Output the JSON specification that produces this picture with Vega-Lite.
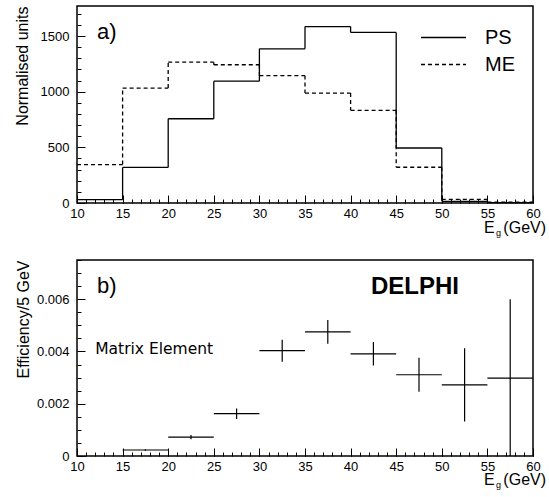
{
  "$schema": "https://vega.github.io/schema/vega-lite/v6.json",
  "padding": {"left": 13, "top": 5, "right": 2, "bottom": 5},
  "background": "white",
  "spacing": 18,
  "config": {
    "view": {"stroke": "black", "strokeWidth": 1.5},
    "font": "Liberation Sans",
    "axis": {
      "domain": false, "grid": false, "tickColor": "black", "zindex": 1,
      "labelColor": "black", "labelFont": "Liberation Sans", "labelFontSize": 13,
      "titleFont": "Liberation Sans", "titleFontWeight": "normal", "titleColor": "black", "titleFontSize": 16
    }
  },
  "datasets": {
    "hist": [
      {"series": "PS", "lo": 10, "hi": 15, "v": 30},
      {"series": "PS", "lo": 15, "hi": 20, "v": 320},
      {"series": "PS", "lo": 20, "hi": 25, "v": 757},
      {"series": "PS", "lo": 25, "hi": 30, "v": 1095},
      {"series": "PS", "lo": 30, "hi": 35, "v": 1385},
      {"series": "PS", "lo": 35, "hi": 40, "v": 1585},
      {"series": "PS", "lo": 40, "hi": 45, "v": 1533},
      {"series": "PS", "lo": 45, "hi": 50, "v": 494},
      {"series": "PS", "lo": 50, "hi": 55, "v": 15},
      {"series": "PS", "lo": 55, "hi": 60, "v": 3},
      {"series": "ME", "lo": 10, "hi": 15, "v": 345},
      {"series": "ME", "lo": 15, "hi": 20, "v": 1033},
      {"series": "ME", "lo": 20, "hi": 25, "v": 1265},
      {"series": "ME", "lo": 25, "hi": 30, "v": 1242},
      {"series": "ME", "lo": 30, "hi": 35, "v": 1145},
      {"series": "ME", "lo": 35, "hi": 40, "v": 988},
      {"series": "ME", "lo": 40, "hi": 45, "v": 833},
      {"series": "ME", "lo": 45, "hi": 50, "v": 321},
      {"series": "ME", "lo": 50, "hi": 55, "v": 33},
      {"series": "ME", "lo": 55, "hi": 60, "v": 8}
    ],
    "eff": [
      {"lo": 15, "hi": 20, "mid": 17.5, "eff": 0.00023, "elo": 0.0002, "ehi": 0.00026},
      {"lo": 20, "hi": 25, "mid": 22.5, "eff": 0.00072, "elo": 0.00064, "ehi": 0.0008},
      {"lo": 25, "hi": 30, "mid": 27.5, "eff": 0.00162, "elo": 0.00142, "ehi": 0.00182},
      {"lo": 30, "hi": 35, "mid": 32.5, "eff": 0.00403, "elo": 0.00361, "ehi": 0.00445},
      {"lo": 35, "hi": 40, "mid": 37.5, "eff": 0.00475, "elo": 0.0043, "ehi": 0.0052},
      {"lo": 40, "hi": 45, "mid": 42.5, "eff": 0.00391, "elo": 0.00346, "ehi": 0.00436},
      {"lo": 45, "hi": 50, "mid": 47.5, "eff": 0.00311, "elo": 0.00246, "ehi": 0.00376},
      {"lo": 50, "hi": 55, "mid": 52.5, "eff": 0.00272, "elo": 0.00132, "ehi": 0.00412},
      {"lo": 55, "hi": 60, "mid": 57.5, "eff": 0.00298, "elo": 0.0, "ehi": 0.006}
    ],
    "notesA": [{"t": "a)"}],
    "notesB": [{"t": "b)", "m": "Matrix Element", "d": "DELPHI"}],
    "xt": [{"e": "E", "g": "g", "u": "(GeV)"}]
  },
  "vconcat": [
    {
      "width": 456, "height": 197,
      "resolve": {"axis": {"x": "independent", "y": "independent"}},
      "layer": [
        {
          "data": {"name": "hist"},
          "mark": {"type": "rule", "color": "black", "strokeWidth": 1.3},
          "encoding": {
            "x": {"field": "lo", "type": "quantitative",
              "scale": {"domain": [10, 60], "nice": false, "zero": false},
              "axis": {"orient": "bottom", "title": null, "ticks": true, "tickSize": -8,
                "values": [10, 15, 20, 25, 30, 35, 40, 45, 50, 55, 60],
                "labelOverlap": false, "labelFlush": false, "labelPadding": 12}},
            "x2": {"field": "hi"},
            "y": {"field": "v", "type": "quantitative",
              "scale": {"domain": [0, 1770], "nice": false},
              "axis": {"orient": "left", "title": "Normalised units", "titleAnchor": "end", "titlePadding": 10,
                "ticks": true, "tickSize": -8, "values": [0, 500, 1000, 1500], "format": "d",
                "labelOverlap": false, "labelPadding": 16}},
            "strokeDash": {"field": "series", "type": "nominal",
              "scale": {"domain": ["PS", "ME"], "range": [[1, 0], [4, 3]]},
              "legend": {"orient": "top-right", "title": null, "offset": 18, "padding": 0,
                "symbolType": "M-1.8,0H1.8", "symbolSize": 625, "symbolStrokeWidth": 1.3,
                "symbolStrokeColor": "black", "symbolFillColor": "transparent",
                "labelFontSize": 20, "labelFont": "Liberation Sans", "labelColor": "black",
                "labelOffset": 28, "rowPadding": 3}}
          }
        },
        {
          "data": {"name": "hist"},
          "transform": [
            {"window": [{"op": "lag", "field": "v", "as": "prev"}], "groupby": ["series"], "sort": [{"field": "lo"}]},
            {"filter": "datum.prev != null"}
          ],
          "mark": {"type": "rule", "color": "black", "strokeWidth": 1.3},
          "encoding": {
            "x": {"field": "lo", "type": "quantitative",
              "axis": {"orient": "top", "offset": -197, "title": null, "labels": false, "domain": false,
                "ticks": true, "minExtent": 0, "tickSize": 4,
                "values": [10,11,12,13,14,15,16,17,18,19,20,21,22,23,24,25,26,27,28,29,30,31,32,33,34,35,36,37,38,39,40,41,42,43,44,45,46,47,48,49,50,51,52,53,54,55,56,57,58,59,60]}},
            "y": {"field": "prev", "type": "quantitative",
              "axis": {"orient": "right", "offset": -456, "title": null, "labels": false, "domain": false,
                "ticks": true, "minExtent": 0, "tickSize": 4,
                "values": [0,100,200,300,400,500,600,700,800,900,1000,1100,1200,1300,1400,1500,1600,1700]}},
            "y2": {"field": "v"},
            "strokeDash": {"field": "series", "type": "nominal"}
          }
        },
        {
          "data": {"name": "notesA"},
          "mark": {"type": "text", "fontSize": 22, "align": "left", "baseline": "middle", "color": "black"},
          "encoding": {"text": {"field": "t"}, "x": {"datum": 12.2, "axis": null}, "y": {"datum": 1532, "axis": null}}
        },
        {
          "data": {"name": "xt"},
          "mark": {"type": "text", "fontSize": 16, "align": "left", "baseline": "alphabetic", "color": "black"},
          "encoding": {"text": {"field": "e"}, "x": {"datum": 54.63, "axis": null}, "y": {"datum": -270, "axis": null}}
        },
        {
          "data": {"name": "xt"},
          "mark": {"type": "text", "fontSize": 9, "align": "left", "baseline": "alphabetic", "color": "black"},
          "encoding": {"text": {"field": "g"}, "x": {"datum": 55.95, "axis": null}, "y": {"datum": -300, "axis": null}}
        },
        {
          "data": {"name": "xt"},
          "mark": {"type": "text", "fontSize": 16, "align": "left", "baseline": "alphabetic", "color": "black"},
          "encoding": {"text": {"field": "u"}, "x": {"datum": 56.75, "axis": null}, "y": {"datum": -270, "axis": null}}
        }
      ]
    },
    {
      "width": 456, "height": 196,
      "resolve": {"axis": {"x": "independent", "y": "independent"}},
      "layer": [
        {
          "data": {"name": "eff"},
          "mark": {"type": "rule", "color": "black", "strokeWidth": 1.2},
          "encoding": {
            "x": {"field": "lo", "type": "quantitative",
              "scale": {"domain": [10, 60], "nice": false, "zero": false},
              "axis": {"orient": "bottom", "title": null, "ticks": true, "tickSize": -8,
                "values": [10, 15, 20, 25, 30, 35, 40, 45, 50, 55, 60],
                "labelOverlap": false, "labelFlush": false, "labelPadding": 12}},
            "x2": {"field": "hi"},
            "y": {"field": "eff", "type": "quantitative",
              "scale": {"domain": [0, 0.0075], "nice": false},
              "axis": {"orient": "left", "title": "Efficiency/5 GeV", "titleAnchor": "end", "titlePadding": 5,
                "ticks": true, "tickSize": -8, "values": [0, 0.002, 0.004, 0.006],
                "labelExpr": "datum.value === 0 ? '0' : format(datum.value, '.3f')",
                "labelOverlap": false, "labelPadding": 16}}
          }
        },
        {
          "data": {"name": "eff"},
          "mark": {"type": "rule", "color": "black", "strokeWidth": 1.2},
          "encoding": {
            "x": {"field": "mid", "type": "quantitative",
              "axis": {"orient": "top", "offset": -196, "title": null, "labels": false, "domain": false,
                "ticks": true, "minExtent": 0, "tickSize": 4,
                "values": [10,11,12,13,14,15,16,17,18,19,20,21,22,23,24,25,26,27,28,29,30,31,32,33,34,35,36,37,38,39,40,41,42,43,44,45,46,47,48,49,50,51,52,53,54,55,56,57,58,59,60]}},
            "y": {"field": "elo", "type": "quantitative",
              "axis": {"orient": "right", "offset": -456, "title": null, "labels": false, "domain": false,
                "ticks": true, "minExtent": 0, "tickSize": 4,
                "values": [0,0.0005,0.001,0.0015,0.002,0.0025,0.003,0.0035,0.004,0.0045,0.005,0.0055,0.006,0.0065,0.007,0.0075]}},
            "y2": {"field": "ehi"}
          }
        },
        {
          "data": {"name": "notesB"},
          "mark": {"type": "text", "fontSize": 22, "align": "left", "baseline": "middle", "color": "black"},
          "encoding": {"text": {"field": "t"}, "x": {"datum": 12.2, "axis": null}, "y": {"datum": 0.0065, "axis": null}}
        },
        {
          "data": {"name": "notesB"},
          "mark": {"type": "text", "fontSize": 15.5, "font": "DejaVu Sans", "align": "left", "baseline": "middle", "color": "black"},
          "encoding": {"text": {"field": "m"}, "x": {"datum": 12.0, "axis": null}, "y": {"datum": 0.0041, "axis": null}}
        },
        {
          "data": {"name": "notesB"},
          "mark": {"type": "text", "fontSize": 24, "fontWeight": "bold", "align": "center", "baseline": "middle", "color": "black"},
          "encoding": {"text": {"field": "d"}, "x": {"datum": 47.06, "axis": null}, "y": {"datum": 0.00645, "axis": null}}
        },
        {
          "data": {"name": "xt"},
          "mark": {"type": "text", "fontSize": 16, "align": "left", "baseline": "alphabetic", "color": "black"},
          "encoding": {"text": {"field": "e"}, "x": {"datum": 54.63, "axis": null}, "y": {"datum": -0.00111, "axis": null}}
        },
        {
          "data": {"name": "xt"},
          "mark": {"type": "text", "fontSize": 9, "align": "left", "baseline": "alphabetic", "color": "black"},
          "encoding": {"text": {"field": "g"}, "x": {"datum": 55.95, "axis": null}, "y": {"datum": -0.00123, "axis": null}}
        },
        {
          "data": {"name": "xt"},
          "mark": {"type": "text", "fontSize": 16, "align": "left", "baseline": "alphabetic", "color": "black"},
          "encoding": {"text": {"field": "u"}, "x": {"datum": 56.75, "axis": null}, "y": {"datum": -0.00111, "axis": null}}
        }
      ]
    }
  ]
}
